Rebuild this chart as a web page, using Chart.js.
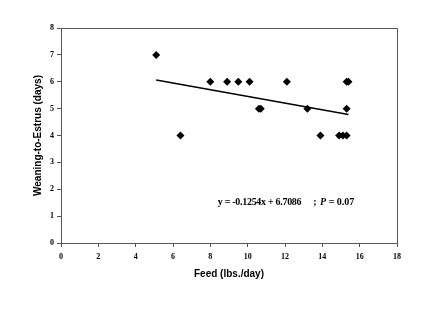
<!DOCTYPE html>
<html>
<head>
<meta charset="utf-8">
<script src="https://cdn.jsdelivr.net/npm/chart.js@4/dist/chart.umd.min.js"></script>
<style>
  html, body { margin: 0; padding: 0; background: #fff; }
  #wrap { width: 431px; height: 323px; }
</style>
</head>
<body>
<div id="wrap"><canvas id="c" width="431" height="323"></canvas></div>
<script>
// Daily feed intake (lbs./day) and weaning-to-estrus interval (days) per sow
const feed = [5.1, 6.4, 8.0, 8.9, 9.5, 10.1, 10.6, 10.7, 12.1, 13.2, 13.9, 14.9, 15.1, 15.3, 15.3, 15.3, 15.4];
const days = [7, 4, 6, 6, 6, 6, 5, 5, 6, 5, 4, 4, 4, 4, 5, 6, 6];

// Fitted regression reported on the chart
const slope = -0.1254;
const intercept = 6.7086;
const pValue = '0.07';

const xTicks = [0, 2, 4, 6, 8, 10, 12, 14, 16, 18];
const yTicks = [0, 1, 2, 3, 4, 5, 6, 7, 8];

const points = feed.map((x, i) => ({ x: x, y: days[i] }));
const xMin = Math.min(...feed), xMax = Math.max(...feed);
const fitLine = [xMin, xMax].map(x => ({ x: x, y: slope * x + intercept }));

const axisColor = '#555';
const tickFont = { family: '"Liberation Serif", "Times New Roman", serif', size: 8, weight: 'bold' };
const titleFont = { family: '"Liberation Sans", Arial, sans-serif', size: 10, weight: 'bold' };

// Frame around the plot and regression annotation
const framePlugin = {
  id: 'frame',
  afterDatasetsDraw(chart) {
    const { ctx, chartArea: a, scales } = chart;
    ctx.save();
    ctx.strokeStyle = axisColor;
    ctx.lineWidth = 1;
    ctx.beginPath();
    ctx.moveTo(a.left, a.top + 0.5);
    ctx.lineTo(a.right + 0.5, a.top + 0.5);
    ctx.lineTo(a.right + 0.5, a.bottom);
    ctx.stroke();

    const tx = scales.x.getPixelForValue(8.4);
    const ty = scales.y.getPixelForValue(1.5);
    ctx.fillStyle = '#000';
    ctx.textBaseline = 'middle';
    ctx.textAlign = 'left';
    const serif = '"Liberation Serif", "Times New Roman", serif';
    ctx.font = 'bold 10px ' + serif;
    ctx.letterSpacing = '-0.3px';
    const eq = 'y = ' + slope.toFixed(4) + 'x + ' + intercept.toFixed(4);
    ctx.fillText(eq, tx, ty);
    let px = tx + ctx.measureText(eq).width + 12;
    ctx.letterSpacing = '0px';
    ctx.fillText('; ', px, ty);
    px += ctx.measureText('; ').width + 1;
    ctx.font = 'italic bold 10px ' + serif;
    ctx.fillText('P', px, ty);
    px += ctx.measureText('P').width;
    ctx.font = 'bold 10px ' + serif;
    ctx.fillText(' = ' + pValue, px, ty);
    ctx.restore();
  }
};

new Chart(document.getElementById('c'), {
  type: 'scatter',
  data: {
    datasets: [
      {
        type: 'scatter',
        data: points,
        pointStyle: 'rectRot',
        pointRadius: 4,
        pointHoverRadius: 4,
        backgroundColor: '#000',
        borderColor: '#000',
        borderWidth: 0,
        order: 1
      },
      {
        type: 'line',
        data: fitLine,
        borderColor: '#000',
        borderWidth: 1.5,
        pointRadius: 0,
        fill: false,
        order: 2
      }
    ]
  },
  options: {
    responsive: false,
    animation: false,
    events: [],
    layout: { padding: { left: 0, right: 34, top: 28, bottom: 40 } },
    plugins: {
      legend: { display: false },
      tooltip: { enabled: false }
    },
    scales: {
      x: {
        type: 'linear',
        min: 0,
        max: 18,
        afterBuildTicks(scale) { scale.ticks = xTicks.map(v => ({ value: v })); },
        afterFit(scale) { scale.height = 40; },
        ticks: { font: tickFont, color: '#000', padding: 5, maxRotation: 0 },
        grid: { drawOnChartArea: false, drawTicks: true, tickLength: 4, color: axisColor },
        border: { display: true, color: axisColor, width: 1 },
        title: { display: true, text: 'Feed (lbs./day)', font: titleFont, color: '#000', padding: { top: 0, bottom: 3 } }
      },
      y: {
        type: 'linear',
        min: 0,
        max: 8,
        afterBuildTicks(scale) { scale.ticks = yTicks.map(v => ({ value: v })); },
        afterFit(scale) { scale.width = 61; },
        ticks: { font: tickFont, color: '#000', padding: 3 },
        grid: { drawOnChartArea: false, drawTicks: true, tickLength: 4, color: axisColor },
        border: { display: true, color: axisColor, width: 1 },
        title: { display: true, text: 'Weaning-to-Estrus (days)', font: titleFont, color: '#000', padding: { top: 32, bottom: 0 } }
      }
    }
  },
  plugins: [framePlugin]
});
</script>
</body>
</html>
